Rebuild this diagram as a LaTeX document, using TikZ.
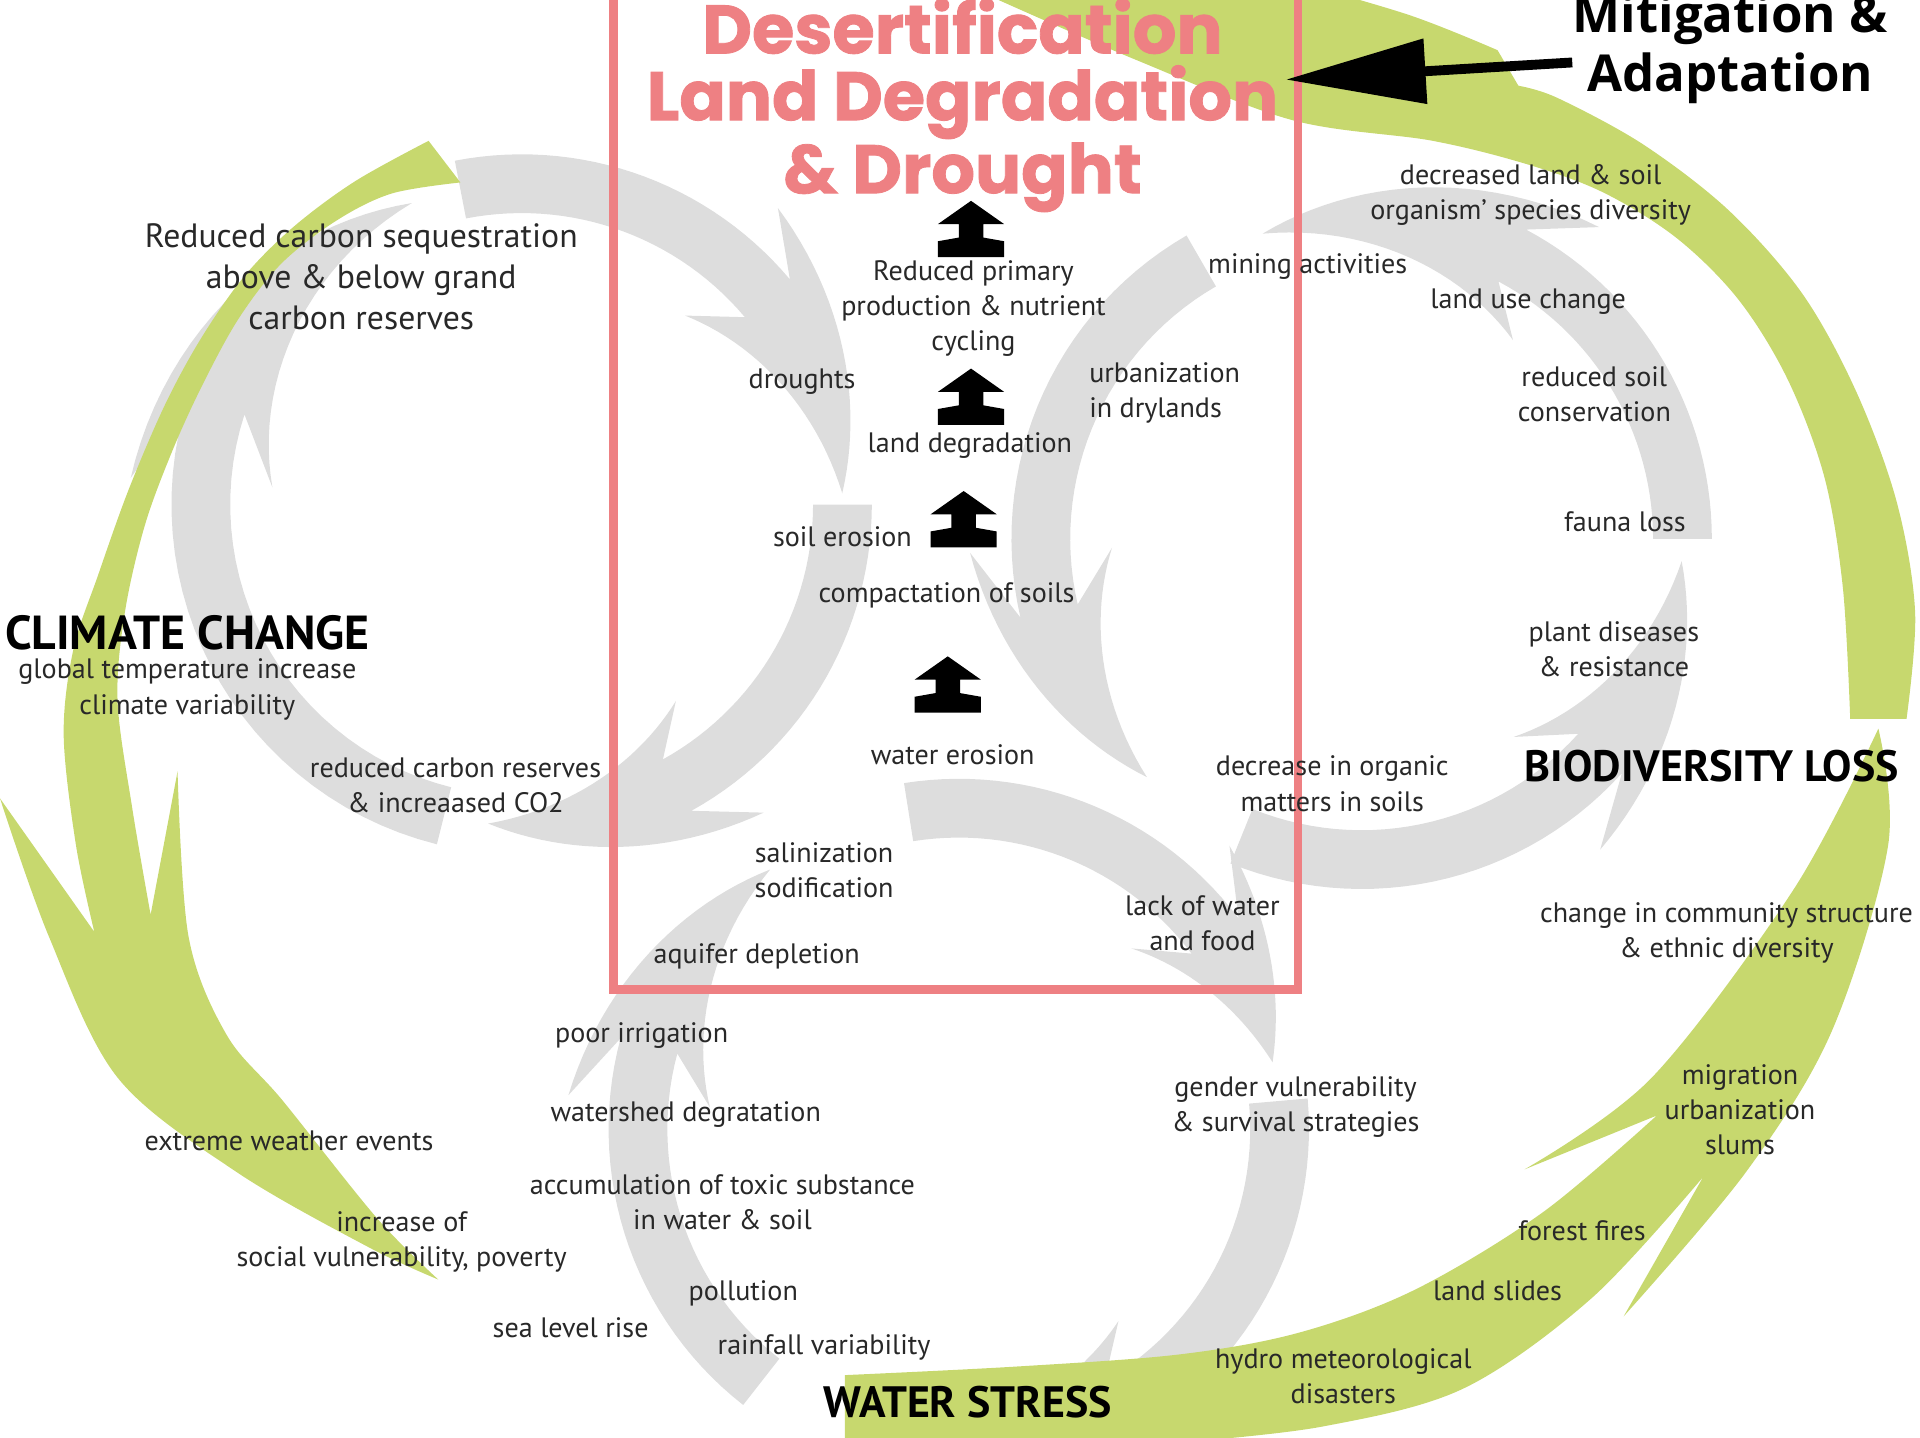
\documentclass[tikz,border=0pt]{standalone}
\usepackage{fontspec}
\setmainfont{PT Sans}
\newfontfamily\titlefont{Poppins}[BoldFeatures={FakeBold=1.2}]
\newfontfamily\mitfont{Open Sans}
\usetikzlibrary{arrows.meta}
\definecolor{ringgreen}{RGB}{199,216,110}
\definecolor{cyclegray}{RGB}{221,221,221}
\definecolor{deserpink}{RGB}{238,128,131}
\definecolor{labelgray}{RGB}{40,40,40}

% gray cycle arrows: centre x, centre y, tail, notch, tip (angles counter-clockwise)
\newcommand{\ringmid}{262}
\newcommand{\ringhalf}{24}
\newcommand{\headhalf}{58}
\newcommand{\cyclearrow}[5]{%
  \fill[cyclegray, shift={(#1,#2)}]
    plot[domain=#3:#4, samples=30] ({-\x}:{\ringmid+\ringhalf})
    -- ({-(#4+(#3-#4)*0.15)}:{\ringmid+\headhalf})
    -- plot[domain=0:1, samples=25] ({-((#4+(#3-#4)*0.15)+(#5-#4-(#3-#4)*0.15)*\x)}:{\ringmid+\headhalf*(1-\x)})
    -- plot[domain=0:1, samples=25] ({-((#4+(#3-#4)*0.15)+(#5-#4-(#3-#4)*0.15)*(1-\x))}:{\ringmid-\headhalf*\x})
    -- plot[domain=#4:#3, samples=30] ({-\x}:{\ringmid-\ringhalf})
    -- cycle;}

\tikzset{
  lbl/.style={font=\fontsize{8}{10}\selectfont, text=labelgray, align=center, inner sep=0pt},
  biglbl/.style={font=\fontsize{9.6}{11.8}\selectfont, text=labelgray, align=center, inner sep=0pt},
  theme/.style={font=\bfseries\fontsize{12.5}{15}\selectfont, text=black, inner sep=0pt},
  titletxt/.style={font=\titlefont\bfseries\fontsize{19.5}{19}\selectfont, text=deserpink, align=center, inner sep=0pt},
  mittxt/.style={font=\mitfont\bfseries\fontsize{14.5}{16.7}\selectfont, text=black, align=center, inner sep=0pt}
}

\begin{document}
\begin{tikzpicture}[x=0.01225cm, y=-0.01225cm]
\useasboundingbox (0,0) rectangle (1568,1174);

% three gray cycles
\foreach \cx/\cy/\ta/\tb/\tc in {426/412/101/40/2, 426/412/0/-61/-96, 426/412/-104/-198/-250,
  1112/440/0/62/108, 1112/440/120/193/228, 1112/440/248/318/356,
  783/922/99/37/12, 783/922/5/-60/-105, 783/922/-128/-195/-234}
{
\cyclearrow{\cx}{\cy}{\ta}{\tb}{\tc}
}

% green ring: climate change
\fill[ringgreen] (350,115)
  -- plot[smooth, tension=0.55] coordinates {(350,115) (290,148) (240,185) (200,225) (165,275) (135,330) (105,400) (80,470) (60,530) (52,600) (62,690) (77,761)}
  -- (0,652)
  -- plot[smooth, tension=0.55] coordinates {(0,652) (40,765) (96,880) (193,957) (300,1018) (358,1045)}
  -- plot[smooth, tension=0.55] coordinates {(358,1045) (308,995) (231,899) (185,845) (154,765) (145,630)}
  -- (123,747)
  -- plot[smooth, tension=0.55] coordinates {(123,747) (108,660) (96,572) (102,500) (118,430) (140,370) (165,315) (195,260) (230,215) (275,180) (320,158) (376,149)}
  -- cycle;
% green ring: water stress
\fill[ringgreen] (690,1123)
  -- plot[smooth, tension=0.55] coordinates {(690,1123) (830,1116) (964,1106) (1062,1088) (1156,1053) (1260,990) (1353,911)}
  -- (1245,955)
  -- plot[smooth, tension=0.55] coordinates {(1245,955) (1349,880) (1465,726) (1534,595)}
  -- plot[smooth, tension=0.55] coordinates {(1534,595) (1542,690) (1496,842) (1426,957) (1326,1075)}
  -- (1391,961)
  -- plot[smooth, tension=0.55] coordinates {(1391,961) (1300,1060) (1195,1134) (1080,1165) (964,1178)}
  -- (690,1180) -- cycle;
% green ring: biodiversity loss
\fill[ringgreen] (1511,587) -- (1557,587)
  -- plot[smooth, tension=0.55] coordinates {(1557,587) (1564,500) (1549,410) (1516,320) (1472,240) (1412,172) (1342,118) (1272,80) (1240,70)}
  -- (1223,41)
  -- plot[smooth, tension=0.55] coordinates {(1223,41) (1150,12) (1040,-20)}
  -- (800,-20)
  -- plot[smooth, tension=0.55] coordinates {(811,-2) (928,49) (1055,98) (1170,115) (1250,135) (1311,158) (1370,195) (1420,245) (1460,310) (1490,390) (1505,480) (1511,587)}
  -- cycle;

% pink frame
\draw[deserpink, line width=2.5pt] (501,-20) rectangle (1060,808);

% black block arrows
\foreach \ax/\ay in {793/164, 793/301, 787/401, 774/536}
{
\fill[black] (\ax,\ay) -- ++(27,19) -- ++(-17,0) -- ++(0,11) -- ++(17,3) -- ++(0,13) -- ++(-54,0) -- ++(0,-13) -- ++(17,-3) -- ++(0,-11) -- ++(-17,0) -- cycle;
}

% titles
\node[titletxt] (desert) at (786,86) {Desertification\\Land Degradation\\\& Drought};
\node[mittxt] (mitig) at (1413,40) {Mitigation \&\\Adaptation};
\node[theme, font=\bfseries\fontsize{13.6}{15}\selectfont] (climate) at (153,517) {CLIMATE CHANGE};
\node[theme] (biodiv) at (1398,626) {BIODIVERSITY LOSS};
\node[theme] (water) at (790,1145) {WATER STRESS};

% labels, climate side
\node[biglbl] (carbseq) at (295,226) {Reduced carbon sequestration\\above \& below grand\\carbon reserves};
\node[lbl] (globtemp) at (153,563) {global temperature increase\\climate variability};
\node[lbl] (redcarb) at (372,641) {reduced carbon reserves\\\& increaased CO2};
\node[lbl] (extreme) at (236,932) {extreme weather events};
\node[lbl] (socvul) at (328,1014) {increase of\\social vulnerability, poverty};
\node[lbl] (sealevel) at (466,1084) {sea level rise};

% labels, centre
\node[lbl] (primprod) at (795,252) {Reduced primary\\production \& nutrient\\cycling};
\node[lbl] (droughts) at (655,312) {droughts};
\node[lbl, anchor=west, align=left] (urbdry) at (889,321) {urbanization\\in drylands};
\node[lbl] (landdeg) at (792,364) {land degradation};
\node[lbl] (soilero) at (688,438) {soil erosion};
\node[lbl] (compact) at (773,486) {compactation of soils};
\node[lbl] (watero) at (778,616) {water erosion};
\node[lbl] (salin) at (673,711) {salinization\\sodification};
\node[lbl] (aquifer) at (618,781) {aquifer depletion};
\node[lbl] (lackwf) at (982,754) {lack of water\\and food};

% labels, water side
\node[lbl] (irrig) at (524,846) {poor irrigation};
\node[lbl] (watershed) at (560,910) {watershed degratation};
\node[lbl] (toxic) at (590,982) {accumulation of toxic substance\\in water \& soil};
\node[lbl] (pollution) at (607,1056) {pollution};
\node[lbl] (rainfall) at (673,1100) {rainfall variability};
\node[lbl] (gender) at (1058,904) {gender vulnerability\\\& survival strategies};
\node[lbl] (hydro) at (1097,1124) {hydro meteorological\\disasters};
\node[lbl] (slides) at (1223,1054) {land slides};
\node[lbl] (fires) at (1292,1005) {forest fires};
\node[lbl] (migr) at (1421,906) {migration\\urbanization\\slums};
\node[lbl] (commun) at (1410,762) {change in community structure\\\& ethnic diversity};

% labels, biodiversity side
\node[lbl] (decsoil) at (1250,159) {decreased land \& soil\\organism' species diversity};
\node[lbl] (mining) at (1068,218) {mining activities};
\node[lbl] (landuse) at (1248,246) {land use change};
\node[lbl] (conserv) at (1302,322) {reduced soil\\conservation};
\node[lbl] (fauna) at (1327,426) {fauna loss};
\node[lbl] (plantdis) at (1318,530) {plant diseases\\\& resistance};
\node[lbl] (organic) at (1088,640) {decrease in organic\\matters in soils};

% mitigation arrow
\coordinate (mitigtail) at (1284,51);
\coordinate (boxhit) at (1050,65);
\draw[line width=2.8pt, -{Triangle[length=14mm, width=6.3mm]}] (mitigtail) -- (boxhit);
\end{tikzpicture}
\end{document}
